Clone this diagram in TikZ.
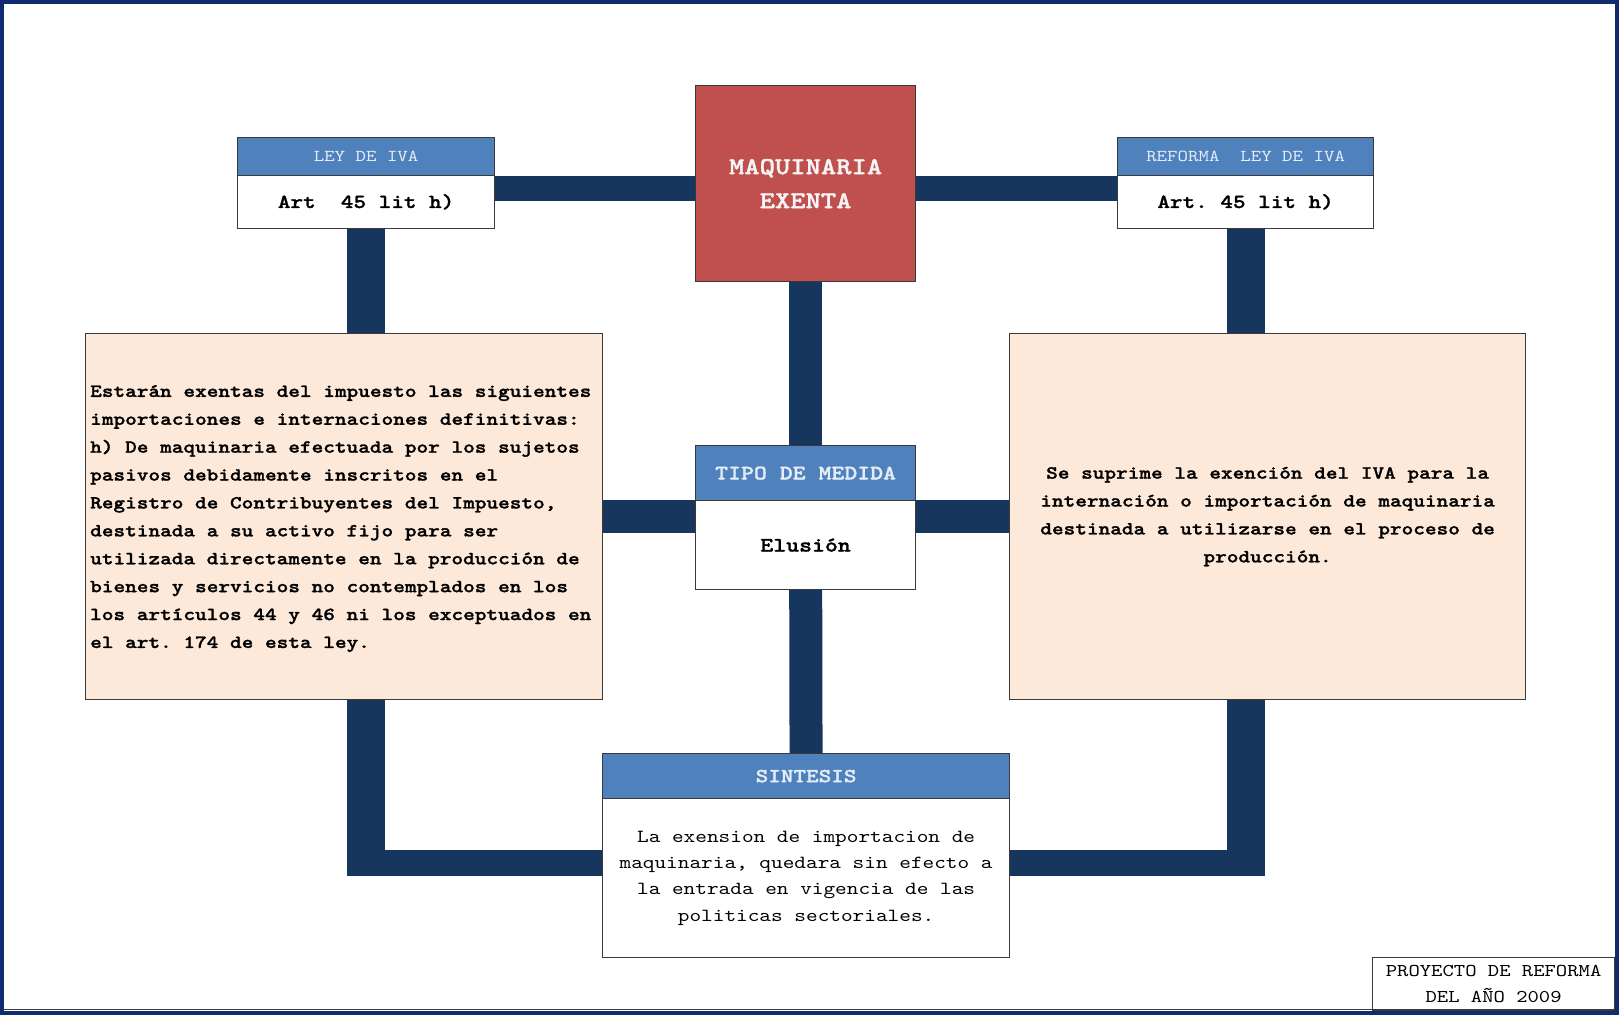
\documentclass[tikz,border=0pt]{standalone}
\usepackage{fontspec}
% serif monospace, widened to typewriter proportions
\newfontfamily\mono[Extension=.otf, BoldFont=lmmonolt10-bold, BoldFeatures={FakeBold=1.3},
  FakeStretch=1.2, WordSpace={1,0,0}]{lmmono10-regular}
\usetikzlibrary{backgrounds,calc}
\definecolor{barnavy}{HTML}{17365D}
\definecolor{hdrblue}{HTML}{4F81BD}
\definecolor{hdrtext}{HTML}{E4ECF7}
\definecolor{redbox}{HTML}{C0504D}
\definecolor{peach}{HTML}{FDE9D9}
\definecolor{boxline}{HTML}{3A3A3A}
\definecolor{framec}{HTML}{102B6E}
\begin{document}
\begin{tikzpicture}[x=1pt,y=-1pt,
  box/.style={draw=boxline, line width=1.2pt, rectangle, inner sep=0pt,
    anchor=north west, align=center},
  hdr/.style={box, fill=hdrblue, text=hdrtext},
  bodybox/.style={box, fill=white, text=black},
  bar/.style={draw=barnavy, line width=#1}]
\useasboundingbox (0,0) rectangle (1619,1015);

% law box (left)
\node[hdr, minimum width=257pt, minimum height=37.5pt,
  font=\mono\frenchspacing\fontsize{16.6}{20}\selectfont] (leyh) at (237,137) {LEY DE IVA};
\node[bodybox, minimum width=257pt, minimum height=53.5pt,
  font=\mono\bfseries\frenchspacing\fontsize{20}{24}\selectfont] (leyb) at (237,174.5) {Art\ \ 45 lit h)};

% reform box (right)
\node[hdr, minimum width=256pt, minimum height=37.5pt,
  font=\mono\frenchspacing\fontsize{16.6}{20}\selectfont] (rfh) at (1117,137) {REFORMA\ \ LEY DE IVA};
\node[bodybox, minimum width=256pt, minimum height=53.5pt,
  font=\mono\bfseries\frenchspacing\fontsize{20}{24}\selectfont] (rfb) at (1117,174.5) {Art. 45 lit h)};

% central title
\node[box, fill=redbox, text=white!96!black, minimum width=220pt, minimum height=196pt,
  font=\mono\bfseries\fontsize{24.3}{34}\selectfont] (maq) at (695,85) {MAQUINARIA\\EXENTA};

% type of measure
\node[hdr, minimum width=220pt, minimum height=55pt,
  font=\mono\bfseries\fontsize{20.5}{24}\selectfont] (tipoh) at (695,445) {TIPO DE MEDIDA};
\node[bodybox, minimum width=220pt, minimum height=89pt,
  font=\mono\bfseries\fontsize{20.5}{24}\selectfont] (tipob) at (695,500) {Elusión};

% detail boxes
\node[box, fill=peach, minimum width=517pt, minimum height=366pt] (lbox) at (85,333) {};
\node[anchor=west, align=left, inner sep=0pt,
  font=\mono\bfseries\frenchspacing\fontsize{18.5}{27.9}\selectfont] (ltext) at ([xshift=5pt,yshift=-2pt]lbox.west)
  {Estarán exentas del impuesto las siguientes\\
   importaciones e internaciones definitivas:\\
   h) De maquinaria efectuada por los sujetos\\
   pasivos debidamente inscritos en el\\
   Registro de Contribuyentes del Impuesto,\\
   destinada a su activo fijo para ser\\
   utilizada directamente en la producción de\\
   bienes y servicios no contemplados en los\\
   los artículos 44 y 46 ni los exceptuados en\\
   el art. 174 de esta ley.};
\node[box, fill=peach, minimum width=516pt, minimum height=366pt,
  font=\mono\bfseries\frenchspacing\fontsize{18.5}{27.9}\selectfont] (rbox) at (1009,333)
  {Se suprime la exención del IVA para la\\
   internación o importación de maquinaria\\
   destinada a utilizarse en el proceso de\\
   producción.};

% synthesis
\node[hdr, minimum width=407pt, minimum height=45pt,
  font=\mono\bfseries\fontsize{20}{24}\selectfont] (synh) at (602,753) {SINTESIS};
\node[bodybox, minimum width=407pt, minimum height=159pt,
  font=\mono\frenchspacing\fontsize{18.5}{26.4}\selectfont] (synb) at (602,798)
  {La exension de importacion de\\
   maquinaria, quedara sin efecto a\\
   la entrada en vigencia de las\\
   politicas sectoriales.};

% footer label
\node[bodybox, minimum width=242pt, minimum height=53pt,
  font=\mono\frenchspacing\fontsize{18}{25.8}\selectfont] (proy) at (1372,957)
  {PROYECTO DE REFORMA\\DEL AÑO 2009};

% connector bars
\begin{scope}[on background layer]
  \fill[white] (0,0) rectangle (1619,1015);
  \path (leyb.north) ++(0,13.5) coordinate (tb);
  \path (synb.north) ++(0,65) coordinate (bb);
  \path (synb.north) ++(0,78) coordinate (bend);
  \draw[bar=25pt] (tb) -- (tb -| maq.center);
  \draw[bar=25pt] (tb -| maq.center) -- (tb -| rfb.center);
  \draw[bar=33pt] (maq.center) -- (tipoh.center);
  \draw[bar=33pt] (tipob.center) -- (synh.center);
  \draw[bar=33pt] (lbox.center) -- (tipob.center |- lbox.center);
  \draw[bar=33pt] (tipob.center |- lbox.center) -- (rbox.center);
  \draw[bar=38pt] (leyb.center) -- (leyb.center |- bend);
  \draw[bar=38pt] (rfb.center) -- (rfb.center |- bend);
  \draw[bar=26pt] (leyb.center |- bb) -- (synb.center |- bb);
  \draw[bar=26pt] (synb.center |- bb) -- (rfb.center |- bb);
\end{scope}

% page frame
\draw[boxline, line width=1.5pt] (3,1009.5) -- (1615,1009.5);
\draw[framec, line width=4pt] (2,2) rectangle (1617,1013);
\end{tikzpicture}
\end{document}
